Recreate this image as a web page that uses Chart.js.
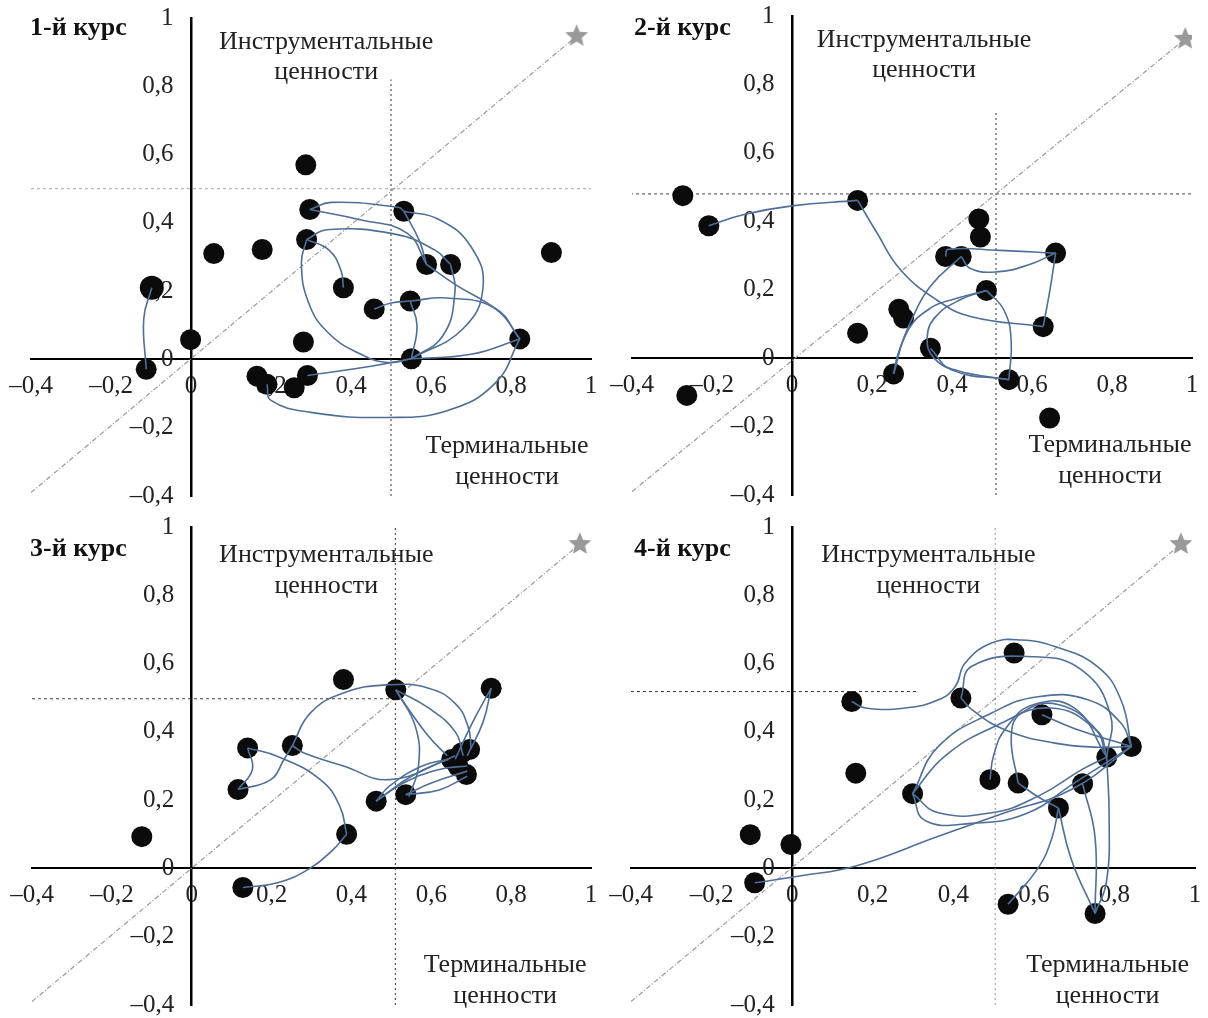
<!DOCTYPE html>
<html>
<head>
<meta charset="utf-8">
<script src="https://cdn.jsdelivr.net/npm/chart.js@4.4.0/dist/chart.umd.min.js"></script>
<style>
  body { margin: 0; background: #fff; }
  #wrap { position: relative; width: 1208px; height: 1018px; }
  canvas { position: absolute; }
</style>
</head>
<body>
<div id="wrap">
  <canvas id="c1" width="604" height="509" style="left:0;top:0"></canvas>
  <canvas id="c2" width="604" height="509" style="left:604px;top:0"></canvas>
  <canvas id="c3" width="604" height="509" style="left:0;top:509px"></canvas>
  <canvas id="c4" width="604" height="509" style="left:604px;top:509px"></canvas>
</div>
<script>
// ---- data: [terminal, instrumental] ----
const titles = ['1-й курс', '2-й курс', '3-й курс', '4-й курс'];
const axisTextTop = ['Инструментальные', 'ценности'];
const axisTextBottom = ['Терминальные', 'ценности'];

const points1 = [
  [0.287, 0.570], [0.297, 0.439], [0.289, 0.351], [0.057, 0.310], [0.178, 0.322],
  [-0.001, 0.058], [-0.112, -0.029], [0.381, 0.210], [0.458, 0.148],
  [0.532, 0.434], [0.589, 0.278], [0.649, 0.278], [0.548, 0.171], [0.551, 0.002],
  [0.822, 0.060], [0.901, 0.313], [0.281, 0.051], [0.165, -0.049], [0.190, -0.073],
  [0.258, -0.083], [0.291, -0.047]
];
const bigPoints1 = [[-0.098, 0.210]];
const curves1 = [
  [[-0.098, 0.21], [-0.118, 0.12], [-0.112, -0.029]],
  [[0.297, 0.439], [0.42, 0.41], [0.54, 0.37], [0.589, 0.278]],
  [[0.297, 0.439], [0.35, 0.46], [0.52, 0.445], [0.532, 0.434]],
  [[0.532, 0.434], [0.62, 0.41], [0.70, 0.33], [0.73, 0.21], [0.68, 0.09], [0.551, 0.002]],
  [[0.532, 0.434], [0.57, 0.35], [0.589, 0.278]],
  [[0.289, 0.351], [0.34, 0.38], [0.51, 0.367], [0.61, 0.32], [0.649, 0.278]],
  [[0.649, 0.278], [0.66, 0.2], [0.63, 0.07], [0.551, 0.002]],
  [[0.289, 0.351], [0.345, 0.32], [0.375, 0.26], [0.381, 0.21]],
  [[0.289, 0.351], [0.276, 0.282], [0.294, 0.166], [0.343, 0.078], [0.425, 0.015], [0.491, -0.009], [0.551, 0.002]],
  [[0.589, 0.278], [0.66, 0.22], [0.77, 0.14], [0.822, 0.06]],
  [[0.458, 0.148], [0.5, 0.165], [0.548, 0.171]],
  [[0.548, 0.171], [0.565, 0.1], [0.551, 0.002]],
  [[0.548, 0.171], [0.64, 0.18], [0.76, 0.15], [0.822, 0.06]],
  [[0.822, 0.06], [0.7, 0.015], [0.551, 0.002]],
  [[0.551, 0.002], [0.45, -0.02], [0.291, -0.047]],
  [[0.19, -0.073], [0.2, -0.12], [0.3, -0.155], [0.49, -0.17], [0.64, -0.15], [0.76, -0.07], [0.822, 0.06]]
];

const points2 = [
  [-0.273, 0.475], [-0.208, 0.387], [-0.263, -0.109], [0.164, 0.461], [0.164, 0.073],
  [0.267, 0.143], [0.279, 0.117], [0.254, -0.046], [0.346, 0.029], [0.384, 0.297],
  [0.423, 0.297], [0.467, 0.407], [0.471, 0.354], [0.486, 0.198], [0.542, -0.063],
  [0.628, 0.092], [0.659, 0.307], [0.644, -0.175]
];
const curves2 = [
  [[-0.208, 0.387], [-0.12, 0.42], [0.0, 0.445], [0.164, 0.461]],
  [[0.164, 0.461], [0.213, 0.365], [0.27, 0.26], [0.362, 0.17], [0.446, 0.122], [0.628, 0.092]],
  [[0.628, 0.092], [0.645, 0.2], [0.659, 0.307]],
  [[0.384, 0.297], [0.39, 0.318], [0.52, 0.315], [0.659, 0.307]],
  [[0.423, 0.297], [0.446, 0.262], [0.51, 0.252], [0.59, 0.272], [0.659, 0.307]],
  [[0.423, 0.297], [0.346, 0.21], [0.298, 0.11], [0.265, 0.012], [0.254, -0.046]],
  [[0.254, -0.046], [0.289, 0.079], [0.346, 0.146], [0.41, 0.174], [0.486, 0.198]],
  [[0.486, 0.198], [0.423, 0.172], [0.36, 0.122], [0.338, 0.06], [0.355, 0.0], [0.412, -0.036], [0.542, -0.063]],
  [[0.346, 0.029], [0.4, -0.035], [0.542, -0.063]],
  [[0.486, 0.198], [0.53, 0.14], [0.548, 0.05], [0.542, -0.063]]
];

const points3 = [
  [0.380, 0.553], [0.511, 0.523], [0.750, 0.528], [0.140, 0.353], [0.252, 0.360],
  [0.116, 0.231], [-0.125, 0.093], [0.388, 0.100], [0.128, -0.056], [0.462, 0.197],
  [0.536, 0.216], [0.651, 0.319], [0.676, 0.338], [0.696, 0.348], [0.667, 0.299],
  [0.688, 0.275]
];
const curves3 = [
  [[0.128, -0.056], [0.215, -0.042], [0.296, 0.0], [0.355, 0.056], [0.388, 0.1]],
  [[0.14, 0.353], [0.215, 0.328], [0.322, 0.26], [0.371, 0.182], [0.388, 0.1]],
  [[0.252, 0.36], [0.297, 0.455], [0.38, 0.514], [0.495, 0.538], [0.593, 0.528], [0.659, 0.484], [0.692, 0.416], [0.7, 0.35]],
  [[0.252, 0.36], [0.231, 0.319], [0.198, 0.26], [0.116, 0.231]],
  [[0.116, 0.231], [0.152, 0.29], [0.14, 0.353]],
  [[0.252, 0.36], [0.281, 0.338], [0.38, 0.3], [0.495, 0.26], [0.643, 0.319]],
  [[0.511, 0.523], [0.544, 0.465], [0.593, 0.387], [0.64, 0.33]],
  [[0.511, 0.523], [0.56, 0.416], [0.568, 0.3], [0.544, 0.21]],
  [[0.511, 0.523], [0.593, 0.47], [0.66, 0.4], [0.68, 0.33]],
  [[0.75, 0.528], [0.7, 0.42], [0.66, 0.32]],
  [[0.75, 0.528], [0.73, 0.43], [0.69, 0.33]],
  [[0.462, 0.197], [0.495, 0.241], [0.577, 0.3], [0.643, 0.32]],
  [[0.462, 0.197], [0.53, 0.25], [0.62, 0.29], [0.69, 0.3]],
  [[0.462, 0.197], [0.55, 0.27], [0.66, 0.33]],
  [[0.536, 0.216], [0.6, 0.25], [0.69, 0.285]],
  [[0.536, 0.216], [0.62, 0.23], [0.69, 0.27]]
];

const points4 = [
  [0.148, 0.489], [0.419, 0.499], [0.551, 0.631], [0.620, 0.450], [0.842, 0.357],
  [0.781, 0.326], [0.491, 0.260], [0.561, 0.250], [0.721, 0.248], [0.661, 0.177],
  [0.299, 0.219], [0.158, 0.279], [-0.104, 0.099], [-0.003, 0.070], [-0.093, -0.042],
  [0.536, -0.105], [0.752, -0.132]
];
const curves4 = [
  [[0.148, 0.489], [0.182, 0.47], [0.281, 0.47], [0.363, 0.494], [0.405, 0.533], [0.429, 0.601], [0.495, 0.66], [0.569, 0.669], [0.652, 0.65], [0.758, 0.591], [0.816, 0.494], [0.842, 0.357]],
  [[0.419, 0.499], [0.446, 0.592], [0.6, 0.62], [0.72, 0.58], [0.79, 0.45], [0.781, 0.326]],
  [[0.419, 0.499], [0.446, 0.465], [0.528, 0.406], [0.652, 0.367], [0.76, 0.355], [0.842, 0.357]],
  [[0.299, 0.219], [0.363, 0.357], [0.495, 0.455], [0.61, 0.503], [0.734, 0.494], [0.816, 0.426], [0.842, 0.357]],
  [[0.299, 0.219], [0.38, 0.33], [0.51, 0.42], [0.64, 0.47], [0.75, 0.41], [0.781, 0.326]],
  [[0.299, 0.219], [0.363, 0.163], [0.495, 0.163], [0.61, 0.211], [0.72, 0.29], [0.781, 0.326]],
  [[0.299, 0.219], [0.33, 0.14], [0.446, 0.132], [0.58, 0.16], [0.7, 0.25], [0.842, 0.357]],
  [[0.491, 0.26], [0.5, 0.33], [0.53, 0.41], [0.6, 0.48], [0.7, 0.47], [0.781, 0.326]],
  [[0.561, 0.25], [0.544, 0.387], [0.569, 0.455], [0.66, 0.48], [0.76, 0.4], [0.781, 0.326]],
  [[0.62, 0.45], [0.7, 0.41], [0.842, 0.357]],
  [[-0.093, -0.042], [0.018, -0.022], [0.158, 0.007], [0.363, 0.094], [0.528, 0.163], [0.693, 0.231], [0.842, 0.357]],
  [[0.661, 0.177], [0.645, 0.09], [0.61, 0.0], [0.536, -0.105]],
  [[0.661, 0.177], [0.693, 0.026], [0.752, -0.132]],
  [[0.721, 0.248], [0.752, 0.09], [0.752, -0.132]],
  [[0.781, 0.326], [0.787, 0.143], [0.78, -0.04], [0.752, -0.132]],
  [[0.561, 0.25], [0.61, 0.21], [0.661, 0.177]]
];

// star (ideal point) and guide lines of each panel
const stars = [[0.964, 0.947], [0.983, 0.933], [0.972, 0.950], [0.965, 0.950]];
const hLines = [[-0.4, 1.0, 0.50], [-0.42, 1.0, 0.48], [-0.4, 0.51, 0.497], [-0.4, 0.314, 0.518]];
const vLines = [[0.50, -0.4, 0.82], [0.51, -0.4, 0.72], [0.51, -0.4, 1.0], [0.504, -0.4, 1.0]];
const hLineColors = ['#a8a8a8', '#444', '#444', '#333'];
const vLineColors = ['#333', '#333', '#333', '#999'];

const panels = [
  { id: 'c1', points: points1, big: bigPoints1, curves: curves1, pad: { left: 31, right: 6, top: 18, bottom: 12 }, titleY: 28, termX: 0.79, instrX: 0.338 },
  { id: 'c2', points: points2, big: [], curves: curves2, pad: { left: 28, right: 16, top: 16, bottom: 14 }, titleY: 28, termX: 0.795, instrX: 0.33 },
  { id: 'c3', points: points3, big: [], curves: curves3, pad: { left: 32, right: 5, top: 18, bottom: 12 }, titleY: 40, termX: 0.785, instrX: 0.337 },
  { id: 'c4', points: points4, big: [], curves: curves4, pad: { left: 27, right: 10, top: 18, bottom: 12 }, titleY: 40, termX: 0.783, instrX: 0.338 }
];

const SERIF = '"Liberation Serif", "Times New Roman", serif';
const curveColor = '#4f6f98';

function makeStar(r, color) {
  const c = document.createElement('canvas');
  c.width = c.height = 2 * r + 2;
  const g = c.getContext('2d');
  g.fillStyle = color;
  g.beginPath();
  for (let i = 0; i < 10; i++) {
    const a = -Math.PI / 2 + i * Math.PI / 5;
    const rr = i % 2 ? r * 0.45 : r;
    g.lineTo(r + 1 + rr * Math.cos(a), r + 1 + rr * Math.sin(a));
  }
  g.closePath();
  g.fill();
  return c;
}
const starImg = makeStar(12, '#999');

function fmt(v) {
  const r = Math.round(v * 10) / 10;
  if (r === 0) return '0';
  if (r === 1) return '1';
  return (r < 0 ? '\u2013' : '') + Math.abs(r).toFixed(1).replace('.', ',');
}
// y labels sit right-aligned on the axis line, so leave a small gap
const fmtY = v => fmt(v) + '\u2002\u2009';

// keep the plot area exactly where the layout padding puts it
function noPad(scale) {
  scale.paddingLeft = 0;
  scale.paddingRight = 0;
  scale.paddingTop = 0;
  scale.paddingBottom = 0;
}

const toXY = arr => arr.map(p => ({ x: p[0], y: p[1] }));

const textPlugin = {
  id: 'panelText',
  afterDraw(chart, args, opts) {
    const { ctx, scales: { x, y } } = chart;
    ctx.save();
    ctx.fillStyle = '#111';
    ctx.textBaseline = 'middle';
    ctx.textAlign = 'left';
    ctx.font = 'bold 26px ' + SERIF;
    ctx.fillText(opts.title, 30, opts.titleY);
    ctx.font = '26px ' + SERIF;
    ctx.fillStyle = '#222';
    ctx.textAlign = 'center';
    const yTop = opts.titleY === 28 ? [0.93, 0.842] : [0.918, 0.827];
    const yBot = opts.titleY === 28 ? [-0.254, -0.345] : [-0.284, -0.374];
    ctx.fillText(axisTextTop[0], x.getPixelForValue(opts.instrX), y.getPixelForValue(yTop[0]));
    ctx.fillText(axisTextTop[1], x.getPixelForValue(opts.instrX), y.getPixelForValue(yTop[1]));
    ctx.fillText(axisTextBottom[0], x.getPixelForValue(opts.termX), y.getPixelForValue(yBot[0]));
    ctx.fillText(axisTextBottom[1], x.getPixelForValue(opts.termX), y.getPixelForValue(yBot[1]));
    ctx.restore();
  }
};

panels.forEach((p, i) => {
  const datasets = [];
  p.curves.forEach(c => datasets.push({
    data: toXY(c), showLine: true, tension: 0.45, borderColor: curveColor,
    borderWidth: 1.6, pointRadius: 0, order: 1
  }));
  datasets.push({
    data: toXY(p.points), pointRadius: 10.5, pointHoverRadius: 10.5,
    backgroundColor: '#0b0b0b', borderColor: '#0b0b0b', borderWidth: 0, order: 2
  });
  if (p.big.length) datasets.push({
    data: toXY(p.big), pointRadius: 12, backgroundColor: '#0b0b0b', borderWidth: 0, order: 2
  });
  datasets.push({
    data: toXY([[-0.4, -0.39], stars[i]]), showLine: true, borderColor: '#9a9a9a',
    borderWidth: 1.2, borderDash: [5, 2, 1, 2], pointRadius: 0, order: 3
  });
  datasets.push({
    data: toXY([stars[i]]), pointStyle: starImg, pointRadius: 12, order: 2
  });
  datasets.push({
    data: [{ x: hLines[i][0], y: hLines[i][2] }, { x: hLines[i][1], y: hLines[i][2] }],
    showLine: true, borderColor: hLineColors[i], borderWidth: 1, borderDash: [3, 3], pointRadius: 0, order: 3
  });
  datasets.push({
    data: [{ x: vLines[i][0], y: vLines[i][1] }, { x: vLines[i][0], y: vLines[i][2] }],
    showLine: true, borderColor: vLineColors[i], borderWidth: 1, borderDash: [2, 3], pointRadius: 0, order: 3
  });

  new Chart(document.getElementById(p.id), {
    type: 'scatter',
    data: { datasets },
    options: {
      responsive: false,
      animation: false,
      layout: { padding: p.pad },
      plugins: {
        legend: { display: false },
        tooltip: { enabled: false },
        panelText: { title: titles[i], titleY: p.titleY, instrX: p.instrX, termX: p.termX }
      },
      scales: {
        x: {
          type: 'linear', min: -0.4, max: 1, position: { y: 0 },
          afterFit: noPad,
          grid: { display: false, drawTicks: false },
          border: { display: true, color: '#000', width: 2 },
          ticks: { stepSize: 0.2, padding: 12, color: '#222', font: { family: SERIF, size: 25 }, callback: fmt }
        },
        y: {
          type: 'linear', min: -0.4, max: 1, position: { x: 0 },
          afterFit: noPad,
          grid: { display: false, drawTicks: false },
          border: { display: true, color: '#000', width: 2.5 },
          ticks: { stepSize: 0.2, padding: 14, color: '#222', font: { family: SERIF, size: 25 }, callback: fmtY }
        }
      }
    },
    plugins: [textPlugin]
  });
});
</script>
</body>
</html>
